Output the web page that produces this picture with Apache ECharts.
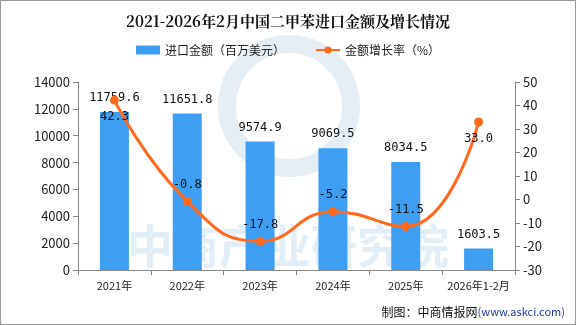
<!DOCTYPE html>
<html><head><meta charset="utf-8">
<script src="https://cdn.jsdelivr.net/npm/echarts@6/dist/echarts.min.js"></script>
<style>html,body{margin:0;padding:0;background:#fff}#c{width:576px;height:325px;box-sizing:border-box;border:1px solid #999}</style>
</head><body><div id="c"></div>
<script>
const categories = ['2021年','2022年','2023年','2024年','2025年','2026年1-2月'];
const importValue = [11759.6, 11651.8, 9574.9, 9069.5, 8034.5, 1603.5];
const growthRate = [42.3, -0.8, -17.8, -5.2, -11.5, 33.0];
const growthLabelPos = ['bottom','top','top','top','top','bottom'];
const leftTicks = {min:0, max:14000, interval:2000};
const rightTicks = {min:-30, max:50, interval:10};

const chart = echarts.init(document.getElementById('c'));
const font = '"Noto Sans CJK SC", sans-serif';
chart.setOption({
  animation:false,
  title:{text:'2021-2026年2月中国二甲苯进口金额及增长情况', left:'center', top:8,
    textStyle:{fontSize:15, fontWeight:'bold', color:'#111', fontFamily:'"Noto Serif CJK SC","Noto Sans CJK SC",serif'}},
  legend:{top:38, left:'center', itemGap:30, itemWidth:24, itemHeight:9,
    textStyle:{fontSize:12, color:'#222', fontFamily:font},
    data:[{name:'进口金额（百万美元）', icon:'rect'},{name:'金额增长率（%）'}]},
  graphic:[
    {type:'circle', shape:{cx:288, cy:105, r:62}, style:{fill:'none', stroke:'rgba(120,170,200,0.2)', lineWidth:18}, z:-1},
    {type:'text', left:'center', top:222, z:-1, style:{text:'中商产业研究院', fontSize:46, fontWeight:'bold', fill:'rgba(150,195,225,0.28)', fontFamily:font, letterSpacing:6}},
    {type:'text', right:10, bottom:6, style:{rich:{a:{fontSize:12, fill:'#111', fontFamily:font},b:{fontSize:11, fill:'#1a3a9a', fontFamily:font}}, text:'{a|制图：中商情报网}{b|(www.askci.com)}'}}
  ],
  grid:{left:77, right:60, top:81, bottom:54},
  xAxis:{type:'category', data:categories,
    axisLine:{lineStyle:{color:'#888'}}, axisTick:{show:true, alignWithLabel:false, lineStyle:{color:'#888'}},
    axisLabel:{interval:0, fontSize:11, color:'#222', fontFamily:font, margin:10}},
  yAxis:[
    {type:'value', min:leftTicks.min, max:leftTicks.max, interval:leftTicks.interval, splitLine:{show:false},
     axisLine:{show:true, lineStyle:{color:'#888'}}, axisTick:{show:true, lineStyle:{color:'#888'}},
     axisLabel:{fontSize:13, color:'#222', fontFamily:font, formatter:v=>String(v)}},
    {type:'value', min:rightTicks.min, max:rightTicks.max, interval:rightTicks.interval, splitLine:{show:false},
     axisLine:{show:true, lineStyle:{color:'#888'}}, axisTick:{show:true, lineStyle:{color:'#888'}},
     axisLabel:{fontSize:13, color:'#222', fontFamily:font, formatter:v=>String(v)}}
  ],
  series:[
    {name:'进口金额（百万美元）', type:'bar', data:importValue, barWidth:29,
     itemStyle:{color:'#3E9EF2'},
     label:{show:true, position:'top', distance:8, fontSize:12, color:'#111', fontFamily:'"DejaVu Sans Mono",monospace', formatter:p=>p.value.toFixed(1)}},
    {name:'金额增长率（%）', type:'line', yAxisIndex:1, smooth:0.5, symbol:'circle', symbolSize:9,
     data:growthRate.map((v,i)=>({value:v, label:{position:growthLabelPos[i]}})),
     lineStyle:{color:'#FF6A1F', width:3}, itemStyle:{color:'#FF6A1F'},
     label:{show:true, distance:6, fontSize:12, color:'#111', fontFamily:'"DejaVu Sans Mono",monospace', formatter:p=>p.value.toFixed(1)}}
  ]
});
</script></body></html>
